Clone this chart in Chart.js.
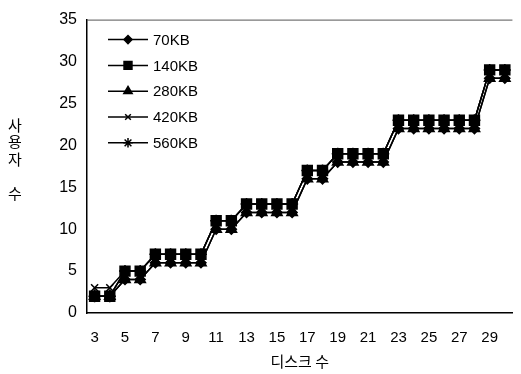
<!DOCTYPE html>
<html lang="ko">
<head>
    <meta charset="UTF-8">
    <title>디스크 수 대비 사용자 수</title>
    <script src="https://cdn.jsdelivr.net/npm/chart.js"></script>
    <style>
        html, body { margin: 0; padding: 0; background: #fff; }
        #wrap { width: 521px; height: 374px; }
    </style>
</head>
<body>
    <div id="wrap"><canvas id="diskChart" width="521" height="374"></canvas></div>

    <script>
        // number of disks (x categories)
        const disks = [3, 4, 5, 6, 7, 8, 9, 10, 11, 12, 13, 14, 15, 16, 17, 18, 19, 20, 21, 22, 23, 24, 25, 26, 27, 28, 29, 30];

        // users supported per block size
        const kb70  = [2, 2, 4, 4, 6, 6, 6, 6, 10, 10, 12, 12, 12, 12, 16, 16, 18, 18, 18, 18, 22, 22, 22, 22, 22, 22, 28, 28];
        const kb140 = [2, 2, 5, 5, 7, 7, 7, 7, 11, 11, 13, 13, 13, 13, 17, 17, 19, 19, 19, 19, 23, 23, 23, 23, 23, 23, 29, 29];
        const kb280 = [2, 2, 4, 4, 6, 6, 6, 6, 10, 10, 12, 12, 12, 12, 16, 16, 18, 18, 18, 18, 22, 22, 22, 22, 22, 22, 28, 28];
        const kb420 = [3, 3, 5, 5, 7, 7, 7, 7, 11, 11, 13, 13, 13, 13, 17, 17, 19, 19, 19, 19, 23, 23, 23, 23, 23, 23, 29, 29];
        const kb560 = [2, 2, 5, 5, 7, 7, 7, 7, 11, 11, 13, 13, 13, 13, 17, 17, 19, 19, 19, 19, 23, 23, 23, 23, 23, 23, 29, 29];

        const yTicks = [0, 5, 10, 15, 20, 25, 30, 35];

        const numFont = '"Liberation Sans Narrow", "Liberation Sans", sans-serif';
        const krFont = '"Noto Sans CJK KR", sans-serif';

        function series(label, data, style, radius) {
            return {
                label: label,
                data: data,
                borderColor: '#000',
                backgroundColor: '#000',
                borderWidth: 1.5,
                pointStyle: style,
                pointRadius: radius,
                pointBorderWidth: 1.5,
                pointBorderColor: '#000',
                pointBackgroundColor: '#000',
                tension: 0,
                fill: false
            };
        }

        // legend drawn inside the plot, line segment + marker + label
        const boxLegend = {
            id: 'boxLegend',
            afterDatasetsDraw(chart) {
                const ctx = chart.ctx;
                const a = chart.chartArea;
                ctx.save();
                chart.data.datasets.forEach((ds, i) => {
                    const y = a.top + 20 + i * 25.8;
                    const x0 = a.left + 21;
                    ctx.strokeStyle = '#000';
                    ctx.lineWidth = 1.5;
                    ctx.beginPath();
                    ctx.moveTo(x0, y);
                    ctx.lineTo(x0 + 40, y);
                    ctx.stroke();
                    Chart.helpers.drawPoint(ctx, {
                        pointStyle: ds.pointStyle,
                        radius: ds.pointRadius * 0.8,
                        borderWidth: 1.5
                    }, x0 + 20, y);
                    ctx.fillStyle = '#000';
                    ctx.font = '15px ' + numFont;
                    ctx.textAlign = 'left';
                    ctx.textBaseline = 'middle';
                    ctx.fillText(ds.label, x0 + 45, y + 1);
                });
                ctx.restore();
            }
        };

        // vertical Korean y title, top frame line
        const decor = {
            id: 'decor',
            afterDraw(chart) {
                const ctx = chart.ctx;
                const a = chart.chartArea;
                ctx.save();
                ctx.strokeStyle = '#555';
                ctx.lineWidth = 1;
                ctx.beginPath();
                ctx.moveTo(a.left, a.top + 0.5);
                ctx.lineTo(a.right, a.top + 0.5);
                ctx.stroke();

                ctx.fillStyle = '#000';
                ctx.font = '15px ' + krFont;
                ctx.textAlign = 'center';
                ctx.textBaseline = 'middle';
                const chars = [['사', 125], ['용', 141], ['자', 159], ['수', 193]];
                chars.forEach(c => ctx.fillText(c[0], 15, c[1]));
                ctx.restore();
            }
        };

        const ctx = document.getElementById('diskChart').getContext('2d');
        const diskChart = new Chart(ctx, {
            type: 'line',
            data: {
                labels: disks,
                datasets: [
                    series('70KB', kb70, 'rectRot', 5),
                    series('140KB', kb140, 'rect', 7),
                    series('280KB', kb280, 'triangle', 6),
                    series('420KB', kb420, 'crossRot', 5),
                    series('560KB', kb560, 'star', 6)
                ]
            },
            options: {
                responsive: false,
                animation: false,
                layout: { padding: { top: 13, right: 3, left: 0, bottom: 0 } },
                scales: {
                    x: {
                        offset: true,
                        grid: { display: false, drawTicks: false },
                        border: { color: '#000', width: 1.5 },
                        ticks: {
                            autoSkip: false,
                            maxRotation: 0,
                            padding: 16,
                            color: '#000',
                            font: { family: numFont, size: 15 },
                            callback: function (v, i) {
                                return i % 2 === 0 ? disks[i] : '';
                            }
                        },
                        title: {
                            display: true,
                            text: '디스크 수',
                            color: '#000',
                            font: { family: krFont, size: 15 },
                            padding: { top: 0 }
                        },
                        afterFit: s => { s.height = 61; }
                    },
                    y: {
                        min: 0,
                        max: 35,
                        grid: { display: false, drawTicks: false },
                        border: { color: '#000', width: 1.5 },
                        afterBuildTicks: s => { s.ticks = yTicks.map(v => ({ value: v })); },
                        ticks: {
                            padding: 10,
                            color: '#000',
                            font: { family: numFont, size: 16 }
                        },
                        afterFit: s => { s.width = 87; }
                    }
                },
                plugins: {
                    legend: { display: false },
                    tooltip: { enabled: false }
                }
            },
            plugins: [boxLegend, decor]
        });
    </script>
</body>
</html>
